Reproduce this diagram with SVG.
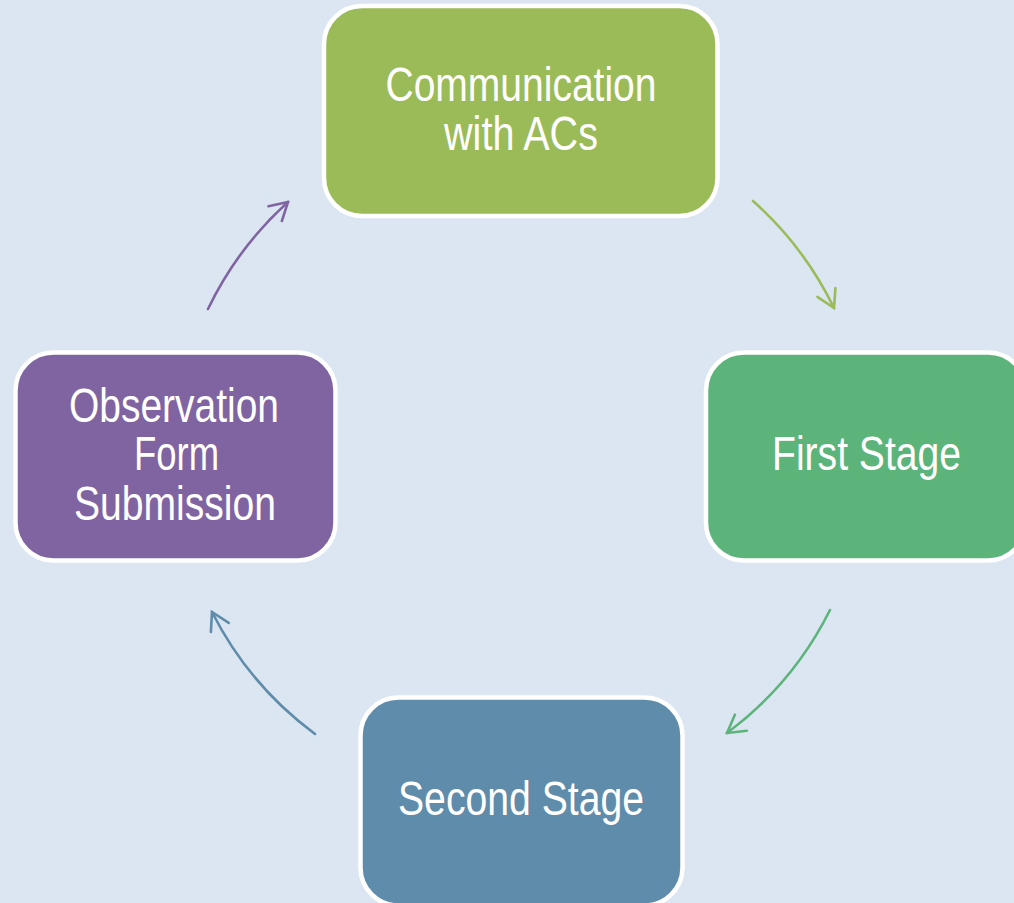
<svg xmlns="http://www.w3.org/2000/svg" width="1014" height="903" viewBox="0 0 1014 903">
<style>
.box{stroke:#ffffff;stroke-width:4.5}
.lbl{font-family:"Liberation Sans",Arial,sans-serif;font-size:48px;fill:#ffffff;text-anchor:middle}
.conn{fill:none;stroke-width:2.6;stroke-linecap:round}
.head{fill:none;stroke-width:2.6;stroke-linecap:round;stroke-linejoin:miter}
</style>
<defs>
<marker id="m1" viewBox="-20 -12 22 24" refX="0" refY="0" markerWidth="22" markerHeight="24" markerUnits="userSpaceOnUse" orient="auto"><path class="head" stroke="#9bbb59" d="M-17.3,-10 L0,0 L-17.3,10"/></marker>
<marker id="m2" viewBox="-20 -12 22 24" refX="0" refY="0" markerWidth="22" markerHeight="24" markerUnits="userSpaceOnUse" orient="auto"><path class="head" stroke="#5cb47b" d="M-17.3,-10 L0,0 L-17.3,10"/></marker>
<marker id="m3" viewBox="-20 -12 22 24" refX="0" refY="0" markerWidth="22" markerHeight="24" markerUnits="userSpaceOnUse" orient="auto"><path class="head" stroke="#5f8cab" d="M-17.3,-10 L0,0 L-17.3,10"/></marker>
<marker id="m4" viewBox="-20 -12 22 24" refX="0" refY="0" markerWidth="22" markerHeight="24" markerUnits="userSpaceOnUse" orient="auto"><path class="head" stroke="#8064a2" d="M-17.3,-10 L0,0 L-17.3,10"/></marker>
</defs>
<rect x="0" y="0" width="1014" height="903" fill="#dce6f2"/>
<g id="connectors">
<path class="conn" stroke="#9bbb59" marker-end="url(#m1)" d="M753,201 A346,346 0 0 1 834,308"/>
<path class="conn" stroke="#5cb47b" marker-end="url(#m2)" d="M830,610 A346,346 0 0 1 727,733"/>
<path class="conn" stroke="#5f8cab" marker-end="url(#m3)" d="M315,734 A346,346 0 0 1 212,612"/>
<path class="conn" stroke="#8064a2" marker-end="url(#m4)" d="M208,309 A346,346 0 0 1 288,202"/>
</g>
<g id="node-communication">
<rect class="box" x="324" y="6" width="393.5" height="210" rx="38" fill="#9bbb59"/>
<text class="lbl"><tspan x="521" y="101" textLength="271" lengthAdjust="spacingAndGlyphs">Communication</tspan><tspan x="521" y="150" textLength="154" lengthAdjust="spacingAndGlyphs">with ACs</tspan></text>
</g>
<g id="node-first">
<rect class="box" x="706" y="352.5" width="320" height="208" rx="38" fill="#5cb47b"/>
<text class="lbl" x="866.5" y="470" textLength="189" lengthAdjust="spacingAndGlyphs">First Stage</text>
</g>
<g id="node-second">
<rect class="box" x="360.5" y="697.5" width="322" height="208" rx="38" fill="#5f8cab"/>
<text class="lbl" x="521" y="815" textLength="246" lengthAdjust="spacingAndGlyphs">Second Stage</text>
</g>
<g id="node-observation">
<rect class="box" x="15.5" y="352.5" width="320" height="208" rx="38" fill="#8064a2"/>
<text class="lbl"><tspan x="174" y="422" textLength="210" lengthAdjust="spacingAndGlyphs">Observation</tspan><tspan x="176.5" y="470" textLength="85" lengthAdjust="spacingAndGlyphs">Form</tspan><tspan x="175" y="520" textLength="202" lengthAdjust="spacingAndGlyphs">Submission</tspan></text>
</g>
</svg>
